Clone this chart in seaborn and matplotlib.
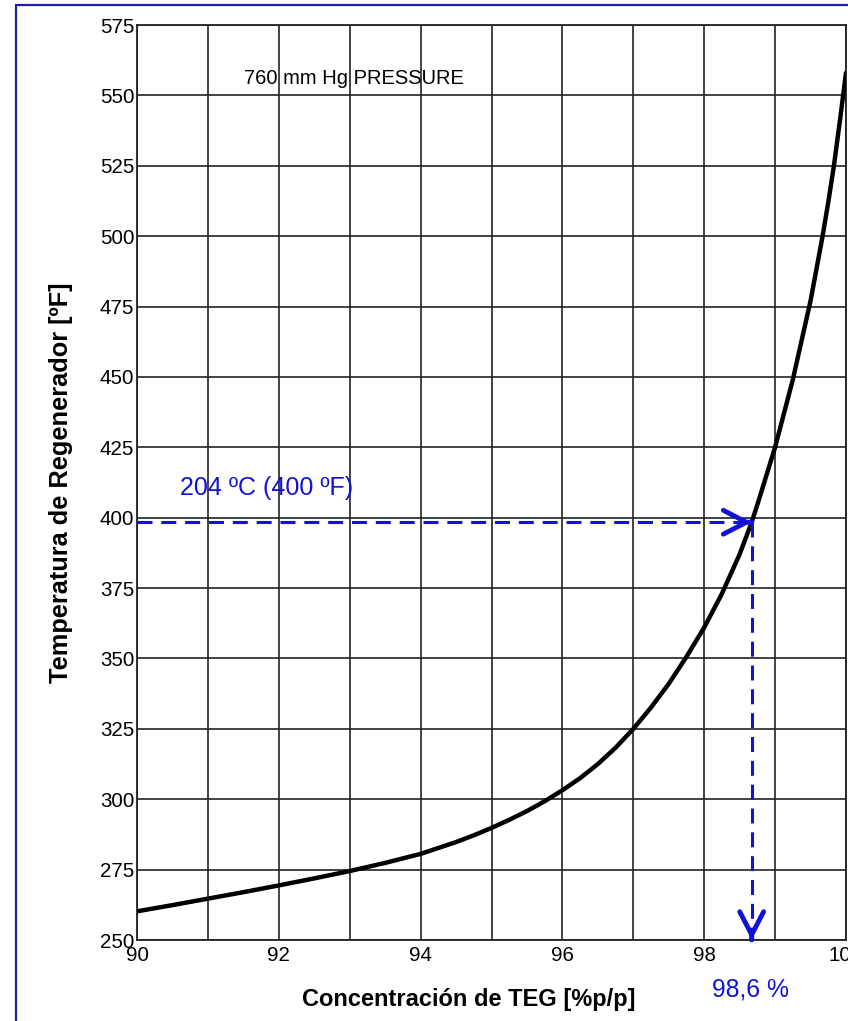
import pandas as pd
import matplotlib.pyplot as plt
from matplotlib.lines import Line2D
import seaborn as sns


# Curve (TEG concentration vs regenerator temperature)
conc = [90, 90.5, 91, 91.5, 92, 92.5, 93, 93.5, 94, 94.5, 94.75, 95, 95.25,
        95.5, 95.75, 96, 96.25, 96.5, 96.75, 97, 97.25, 97.5, 97.75, 98,
        98.25, 98.5, 98.67, 98.75, 99, 99.25, 99.5, 99.67, 99.75, 99.83,
        99.92, 100]
temp = [260.2, 262.4, 264.7, 267, 269.4, 271.9, 274.5, 277.4, 280.6, 284.8,
        287.2, 289.8, 292.7, 295.8, 299.3, 303.2, 307.5, 312.5, 318.3, 325,
        332.6, 341, 350.6, 361, 373, 387, 398.4, 404.6, 425, 449, 477, 500,
        512, 525, 542, 558]

x_ticks = [90, 92, 94, 96, 98, 100]
x_grid = [90, 91, 92, 93, 94, 95, 96, 97, 98, 99, 100]
y_ticks = [250, 275, 300, 325, 350, 375, 400, 425, 450, 475, 500, 525, 550, 575]

# Reading at the regenerator temperature
ref_temp = 398.4
ref_conc = 98.67

blue = '#1212d6'


sns.set_style('white')
plt.rcParams['font.family'] = ['Liberation Sans', 'DejaVu Sans']

fig = plt.figure(figsize=(8.48, 10.21), dpi=100)
ax = fig.add_axes([0.1616, 0.0793, 0.836, 0.8962])

df = pd.DataFrame({'conc': conc, 'temp': temp})
sns.lineplot(data=df, x='conc', y='temp', color='black', lw=3.2, ax=ax, zorder=3)

ax.set_xlim(90, 100)
ax.set_ylim(250, 575)
ax.set_xticks(x_ticks)
ax.set_xticks(x_grid, minor=True)
ax.set_yticks(y_ticks)
ax.grid(True, which='both', color='#222222', lw=1.2)
ax.tick_params(which='both', length=0, labelsize=14.8, colors='black')
ax.tick_params(axis='x', pad=4)
ax.tick_params(axis='y', pad=2)
for s in ax.spines.values():
    s.set_color('#222222')
    s.set_linewidth(1.3)


# Dashed guide lines with arrow heads
dash = (0, (4.9, 2.9))
ax.plot([90, ref_conc], [ref_temp, ref_temp], color=blue, lw=2.2, ls=dash, zorder=4)
ax.plot([ref_conc, ref_conc], [ref_temp, 250], color=blue, lw=2.2, ls=dash, zorder=4)

head = dict(arrowstyle='->,head_length=0.83,head_width=0.43', color=blue,
            lw=3.5, mutation_scale=20, shrinkA=0, shrinkB=0)
ax.annotate('', xy=(ref_conc, ref_temp), xytext=(ref_conc - 0.01, ref_temp),
            arrowprops=head, zorder=5)
ax.annotate('', xy=(ref_conc, 250), xytext=(ref_conc, 250.2),
            arrowprops=head, zorder=5)


# Texts
ax.text(93.06, 556, '760 mm Hg PRESSURE', ha='center', va='center',
        fontsize=14.5, color='black')
ax.text(91.83, 410.5, '204 ºC (400 ºF)', ha='center', va='center',
        fontsize=18, color=blue)
ax.text(98.66, -0.054, '98,6 %', ha='center', va='center', fontsize=17.8,
        color=blue, transform=ax.get_xaxis_transform())

ax.set_xlabel('Concentración de TEG [%p/p]', fontsize=17, fontweight='bold',
              color='black')
ax.set_ylabel('Temperatura de Regenerador [ºF]', fontsize=18.3, fontweight='bold',
              color='black')
ax.xaxis.set_label_coords(0.4675, -0.052)
ax.yaxis.set_label_coords(-0.091, 0.5)


# Blue frame around the figure (right and bottom fall outside the picture)
fig.add_artist(Line2D([16 / 848, 16 / 848], [0, 1 - 5 / 1021],
                      transform=fig.transFigure, color='#1c1ca8', lw=1.6))
fig.add_artist(Line2D([16 / 848, 1], [1 - 5 / 1021, 1 - 5 / 1021],
                      transform=fig.transFigure, color='#1c1ca8', lw=1.6))

fig.savefig('out.png', dpi=100)
